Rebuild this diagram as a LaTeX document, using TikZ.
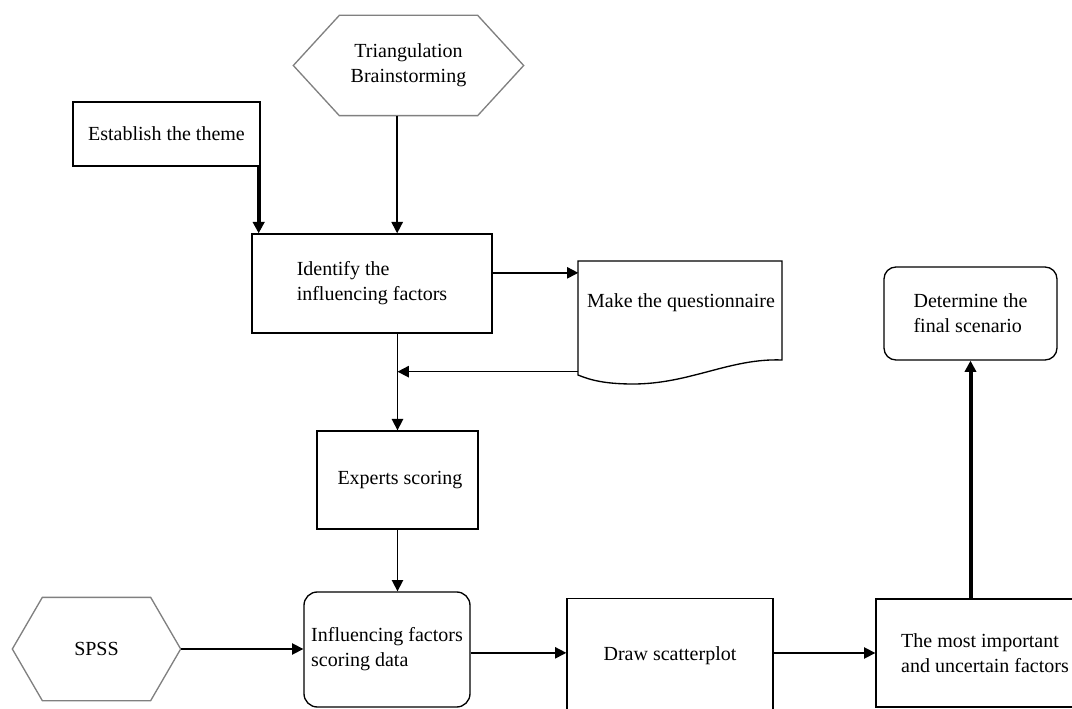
\documentclass[tikz,border=0pt]{standalone}
\usepackage{fontspec}
\setmainfont{Liberation Serif}
\usetikzlibrary{arrows.meta}

\begin{document}
\begin{tikzpicture}[
  x=0.75pt, y=-0.75pt,
  box/.style={draw, line width=1pt, align=left, inner sep=0pt, font=\fontsize{15}{18.75}\selectfont},
  rbox/.style={box, rounded corners=10pt},
  hexnode/.style={box, draw=none, align=center},
  hexline/.style={draw=gray, line width=1pt},
  doc/.style={draw, line width=1pt},
  arr/.style={-{Triangle[length=8.5pt,width=8.5pt]}, line width=1.2pt},
  thickarr/.style={arr, line width=3pt}
]
  \useasboundingbox (0,0) rectangle (1072,709);

  % upper part
  \node[hexnode, minimum width=171.75pt, minimum height=74.25pt] (tri) at (408.5,65.5) {Triangulation\\Brainstorming};
  \node[box, minimum width=140.25pt, minimum height=48pt] (theme) at (166.5,134) {Establish the theme};
  \node[box, minimum width=180pt, minimum height=74.25pt] (ident) at (372,283.5) {Identify the\\influencing factors};
  \node[box, draw=none, minimum width=153pt, minimum height=63pt] (quest) at (681,303) {Make the questionnaire};
  \node[box, minimum width=120.75pt, minimum height=73.5pt] (experts) at (397.5,480) {\ Experts scoring};

  % lower part
  \node[hexnode, minimum width=125.25pt, minimum height=76.5pt] (spss) at (96.5,649) {SPSS};
  \node[rbox, minimum width=124.5pt, minimum height=86.25pt] (infl) at (387,649.5) {Influencing factors\\scoring data};
  \node[box, minimum width=154.5pt, minimum height=86.25pt] (scatter) at (670,656) {Draw scatterplot};
  \node[box, minimum width=163.5pt, minimum height=81pt] (mostimp) at (985,653) {The most important\\and uncertain factors};
  \node[rbox, rounded corners=9pt, minimum width=129.75pt, minimum height=69.75pt] (determine) at (970.5,313.5) {Determine the\\final scenario};

  % outlines
  \draw[hexline] (tri.west) -- ([xshift=34.5pt]tri.north west) -- ([xshift=-34.5pt]tri.north east)
    -- (tri.east) -- ([xshift=-34.5pt]tri.south east) -- ([xshift=34.5pt]tri.south west) -- cycle;
  \draw[hexline] (spss.west) -- ([xshift=22.5pt]spss.north west) -- ([xshift=-22.5pt]spss.north east)
    -- (spss.east) -- ([xshift=-22.5pt]spss.south east) -- ([xshift=22.5pt]spss.south west) -- cycle;
  \draw[doc] (578,261) -- (782,261) -- (782,360)
    .. controls (730,358) and (690,384) .. (633,384)
    .. controls (605,384) and (590,380) .. (578,375) -- cycle;

  % connectors
  \draw[thickarr] ([xshift=-1.5pt]theme.south east) -- ([xshift=-1.5pt]theme.south east |- ident.north);
  \draw[arr] ([xshift=-8.5pt]tri.south) -- ([xshift=-8.5pt]tri.south |- ident.north);
  \draw[arr] ([yshift=8pt]ident.east) -- ([yshift=8pt]ident.east -| quest.west);
  \draw[arr] (experts.north |- ident.south) -- (experts.north);
  \coordinate (qback) at ([yshift=-19.5pt]quest.south west);
  \draw[arr] (qback) -- (qback -| experts.north);
  \draw[arr] (experts.south) -- (experts.south |- infl.north);
  \draw[arr] (spss.east) -- (spss.east -| infl.west);
  \draw[arr] ([yshift=-2.5pt]infl.east) -- ([yshift=-2.5pt]infl.east -| scatter.west);
  \draw[arr] (scatter.east |- mostimp.west) -- (mostimp.west);
  \draw[thickarr] (determine.south |- mostimp.north) -- (determine.south);
\end{tikzpicture}
\end{document}
